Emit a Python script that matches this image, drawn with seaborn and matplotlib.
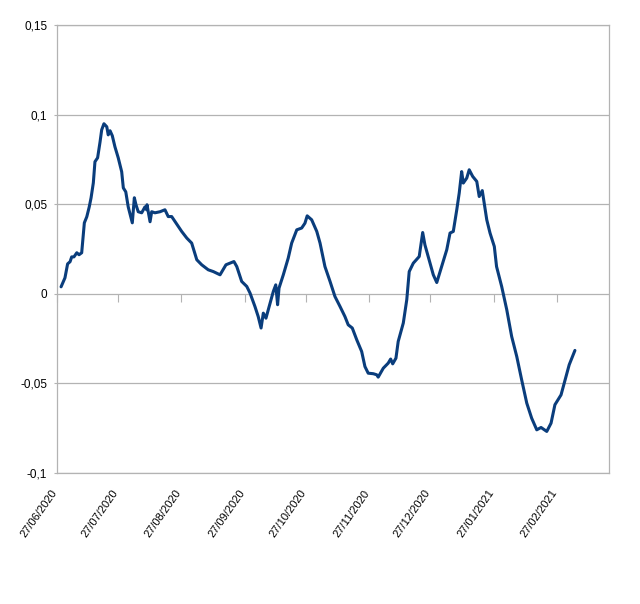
import matplotlib
matplotlib.use("Agg")
import matplotlib.pyplot as plt
import matplotlib.transforms as mtransforms
from matplotlib.ticker import MultipleLocator, FuncFormatter
import seaborn as sns
import pandas as pd

# days since 27/06/2020 and the series value
days = [2.0, 3.9, 5.2, 6.4, 7.2, 8.3, 9.7, 10.8, 12.1, 13.4, 14.6, 15.8, 16.7, 17.8,
        18.6, 19.9, 21.1, 21.9, 23.0, 24.4, 25.1, 26.0, 27.1, 28.4, 30.0, 31.7, 32.5,
        33.7, 34.9, 36.9, 37.9, 38.7, 39.8, 41.5, 43.1, 43.9, 44.1, 45.6, 46.4, 48.0,
        50.5, 52.9, 54.5, 56.2, 58.7, 61.1, 63.6, 66.0, 68.5, 70.9, 74.1, 76.6, 79.9,
        82.8, 86.7, 88.1, 90.5, 93.0, 94.6, 97.0, 98.6, 100.0, 101.1, 102.4, 104.4,
        106.0, 107.2, 108.1, 108.8, 110.9, 113.3, 115.0, 117.5, 119.9, 121.5, 122.6,
        124.8, 127.3, 128.9, 131.3, 133.8, 136.2, 138.7, 141.1, 142.7, 144.7, 146.9,
        149.3, 150.9, 152.5, 155.0, 156.7, 157.4, 159.9, 162.3, 163.5, 164.5, 166.1,
        167.2, 169.7, 171.4, 172.6, 174.6, 177.5, 179.2, 180.3, 182.8, 184.4, 186.1,
        188.5, 191.0, 192.6, 194.2, 195.9, 197.1, 198.3, 199.1, 200.8, 202.0, 203.7,
        205.7, 206.9, 208.4, 210.6, 212.2, 214.3, 215.4, 217.9, 220.4, 222.8, 225.3,
        227.7, 230.2, 232.6, 235.1, 237.2, 240.0, 242.1, 244.0, 247.0, 249.0, 251.0,
        253.8]
values = [0.0039, 0.0089, 0.0167, 0.0179, 0.0206, 0.0206, 0.0229, 0.0218, 0.0229,
          0.0396, 0.0430, 0.0485, 0.0536, 0.0619, 0.0737, 0.0759, 0.0848, 0.0915,
          0.0949, 0.0932, 0.0887, 0.0910, 0.0882, 0.0820, 0.0759, 0.0681, 0.0591,
          0.0569, 0.0485, 0.0396, 0.0536, 0.0497, 0.0458, 0.0452, 0.0485, 0.0469,
          0.0497, 0.0402, 0.0458, 0.0452, 0.0458, 0.0469, 0.0431, 0.0431, 0.0389,
          0.0348, 0.0311, 0.0283, 0.0190, 0.0162, 0.0134, 0.0124, 0.0106, 0.0162,
          0.0180, 0.0152, 0.0069, 0.0041, 0.0004, -0.0071, -0.0127, -0.0191, -0.0108,
          -0.0136, -0.0052, 0.0013, 0.0050, -0.0061, 0.0032, 0.0106, 0.0199, 0.0283,
          0.0357, 0.0367, 0.0394, 0.0435, 0.0413, 0.0348, 0.0283, 0.0152, 0.0069,
          -0.0015, -0.0071, -0.0127, -0.0173, -0.0191, -0.0257, -0.0322, -0.0406,
          -0.0443, -0.0446, -0.0452, -0.0465, -0.0415, -0.0387, -0.0364, -0.0391,
          -0.0359, -0.0266, -0.0163, -0.0033, 0.0124, 0.0171, 0.0208, 0.0342, 0.0273,
          0.0171, 0.0106, 0.0063, 0.0152, 0.0246, 0.0339, 0.0348, 0.0469, 0.0562,
          0.0682, 0.0618, 0.0646, 0.0692, 0.0655, 0.0627, 0.0543, 0.0576, 0.0413,
          0.0339, 0.0264, 0.0152, 0.0041, -0.0089, -0.0238, -0.0350, -0.0480, -0.0610,
          -0.0694, -0.0759, -0.0746, -0.0768, -0.0722, -0.0619, -0.0564, -0.0480,
          -0.0396, -0.0316]

tick_days = [0, 30, 61, 92, 122, 153, 183, 214, 245]
tick_labels = ["27/06/2020", "27/07/2020", "27/08/2020", "27/09/2020", "27/10/2020",
               "27/11/2020", "27/12/2020", "27/01/2021", "27/02/2021"]

sns.set_theme(style="white")
plt.rcParams['font.family'] = ['Liberation Sans', 'DejaVu Sans']

grid_col = "#b3b3b3"
df = pd.DataFrame({"day": days, "value": values})

fig = plt.figure(figsize=(6.4, 6.04), dpi=100)
ax = fig.add_axes([57 / 640, 1 - 473 / 604, 552 / 640, 448 / 604])

sns.lineplot(data=df, x="day", y="value", ax=ax, color="#0a3d7c", linewidth=2.2,
             estimator=None, sort=False)

ax.set_xlim(0, 270.5)
ax.set_ylim(-0.1, 0.15)
ax.yaxis.set_major_locator(MultipleLocator(0.05))


def comma_fmt(v, pos):
    v = round(v, 4) + 0.0
    return f"{v:g}".replace(".", ",")


ax.yaxis.set_major_formatter(FuncFormatter(comma_fmt))
ax.grid(axis="y", color=grid_col, linewidth=0.9)
ax.grid(axis="x", visible=False)
ax.tick_params(axis="y", left=True, length=2, width=0.8, color=grid_col, pad=5,
               labelsize=8.5, labelcolor="black")
ax.set_xticks([])
ax.set_xlabel("")
ax.set_ylabel("")
for s in ax.spines.values():
    s.set_color(grid_col)
    s.set_linewidth(0.9)

# month tick marks hang under the zero line
sec = ax.secondary_xaxis(0.4)
sec.set_xticks(tick_days)
sec.set_xticklabels([""] * len(tick_days))
sec.tick_params(axis="x", direction="out", length=6, width=0.8, color=grid_col)
sec.spines["bottom"].set_visible(False)

# date labels sit at the bottom edge, rotated
base = mtransforms.blended_transform_factory(ax.transData, ax.transAxes)
shift = mtransforms.ScaledTranslation(2 / 100, -15 / 100, fig.dpi_scale_trans)
for d, lab in zip(tick_days, tick_labels):
    ax.text(d, 0, lab, transform=base + shift, rotation=55, ha="right", va="top",
            fontsize=8, color="black")

fig.savefig("out.png", dpi=100)
